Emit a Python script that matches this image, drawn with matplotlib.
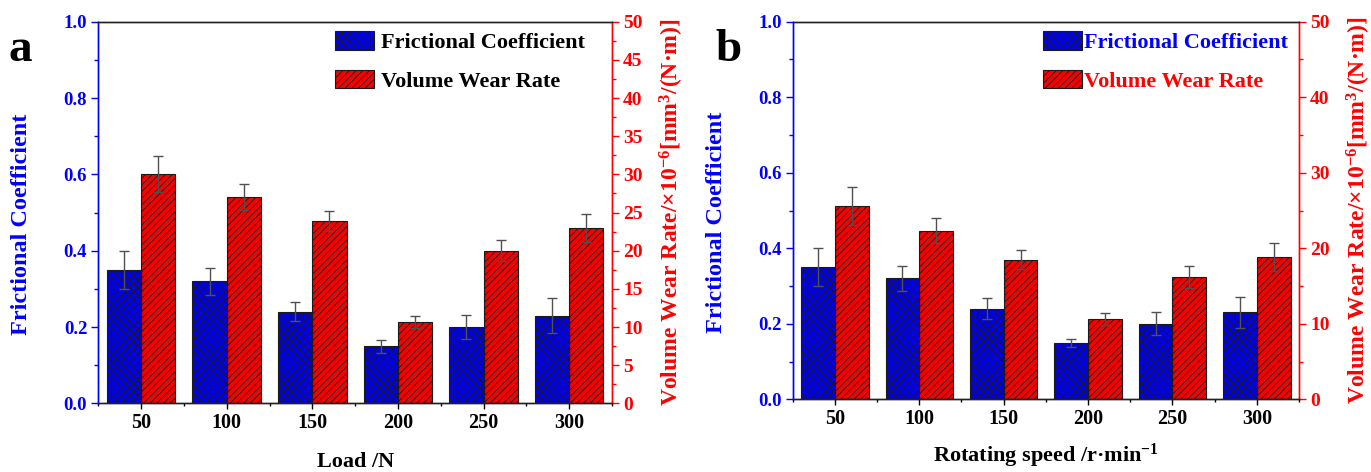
import matplotlib
matplotlib.use("Agg")
import matplotlib.pyplot as plt
import numpy as np
from matplotlib.ticker import MultipleLocator


plt.rcParams["font.family"] = ["Liberation Serif", "DejaVu Serif"]
plt.rcParams["font.weight"] = "bold"
plt.rcParams["mathtext.fontset"] = "custom"
plt.rcParams["mathtext.rm"] = "Liberation Serif:bold"
plt.rcParams["mathtext.it"] = "Liberation Serif:bold"
plt.rcParams["mathtext.bf"] = "Liberation Serif:bold"
plt.rcParams["hatch.linewidth"] = 0.6

BLUE = "#0000ff"
RED = "#ff0000"
BAR_BLUE = "#0000f0"
BAR_RED = "#f80000"

categories = ["50", "100", "150", "200", "250", "300"]

# panel a: load
friction_a = [0.35, 0.32, 0.24, 0.15, 0.20, 0.23]
friction_a_err = [0.05, 0.035, 0.025, 0.017, 0.031, 0.045]
wear_a = [30.0, 27.0, 23.9, 10.7, 20.0, 23.0]
wear_a_err = [2.35, 1.7, 1.35, 0.8, 1.4, 1.8]

# panel b: rotating speed
friction_b = [0.35, 0.32, 0.24, 0.15, 0.20, 0.23]
friction_b_err = [0.05, 0.032, 0.028, 0.011, 0.031, 0.041]
wear_b = [25.6, 22.3, 18.5, 10.6, 16.2, 18.9]
wear_b_err = [2.5, 1.65, 1.3, 0.8, 1.5, 1.85]


def draw_panel(fig, rect, letter, letter_x, fric, fric_err, wear, wear_err,
               xlabel, xlabelpad, wear_major, legend_colored, legend_anchor):
    ax = fig.add_axes(rect)
    ax2 = ax.twinx()
    x = np.arange(len(categories))
    w = 0.4

    hb = ax.bar(x - w / 2, fric, w, color=BAR_BLUE, edgecolor="#1a1a1a",
                hatch="xxxx", linewidth=0.8, zorder=2)
    ax.errorbar(x - w / 2, fric, yerr=fric_err, fmt="none", ecolor="#505050",
                elinewidth=1.0, capsize=3.5, capthick=1.0, zorder=3)
    hr = ax2.bar(x + w / 2, wear, w, color=BAR_RED, edgecolor="#1a1a1a",
                 hatch="/////", linewidth=0.8, zorder=2)
    ax2.errorbar(x + w / 2, wear, yerr=wear_err, fmt="none", ecolor="#505050",
                 elinewidth=1.0, capsize=3.5, capthick=1.0, zorder=3)

    ax.set_xlim(-0.5, 5.5)
    ax.set_ylim(0, 1.0)
    ax2.set_ylim(0, 50)
    ax.set_xticks(x)
    ax.set_xticklabels(categories)
    ax.xaxis.set_minor_locator(MultipleLocator(0.5))
    ax.yaxis.set_major_locator(MultipleLocator(0.2))
    ax.yaxis.set_minor_locator(MultipleLocator(0.1))
    ax2.yaxis.set_major_locator(MultipleLocator(wear_major))
    ax2.yaxis.set_minor_locator(MultipleLocator(wear_major / 2))
    ax.yaxis.set_major_formatter(plt.FormatStrFormatter("%.1f"))

    ax.tick_params(axis="x", which="major", direction="out", length=4,
                   width=1.0, labelsize=14.5, pad=3)
    ax.tick_params(axis="x", which="minor", direction="out", length=2.5, width=1.0)
    ax.tick_params(axis="y", which="major", direction="out", length=5,
                   width=1.0, colors=BLUE, labelsize=13.5, pad=3)
    ax.tick_params(axis="y", which="minor", direction="out", length=3,
                   width=1.0, colors=BLUE)
    ax2.tick_params(axis="y", which="major", direction="out", length=5,
                    width=1.0, colors=RED, labelsize=14, pad=3)
    ax2.tick_params(axis="y", which="minor", direction="out", length=3,
                    width=1.0, colors=RED)

    for a in (ax, ax2):
        a.spines["left"].set_color(BLUE)
        a.spines["right"].set_color(RED)
        a.spines["top"].set_color("#222222")
        a.spines["bottom"].set_color("#222222")
        for s in a.spines.values():
            s.set_linewidth(1.0)
    ax.set_zorder(ax2.get_zorder() + 1)
    ax.patch.set_visible(False)

    ax.set_ylabel("Frictional Coefficient", color=BLUE, fontsize=17.5,
                  fontweight="bold")
    ax.yaxis.set_label_coords(-0.13, 0.47)
    ax2.set_ylabel("Volume Wear Rate/×10$^{-6}$[mm$^{3}$/(N·m)]", color=RED,
                   fontsize=17, fontweight="bold", labelpad=11)
    ax.set_xlabel(xlabel, fontsize=16, fontweight="bold", labelpad=xlabelpad)

    leg = ax.legend([hb, hr], ["Frictional Coefficient", "Volume Wear Rate"],
                    loc="upper left", bbox_to_anchor=legend_anchor,
                    frameon=False, fontsize=16, handlelength=1.75,
                    handleheight=0.9, labelspacing=0.75,
                    handletextpad=0.3 if not legend_colored else 0.1,
                    borderpad=0, borderaxespad=0)
    if legend_colored:
        for t, c in zip(leg.get_texts(), [BLUE, RED]):
            t.set_color(c)

    fig.text(letter_x, 0.895, letter, fontsize=34, fontweight="bold",
             ha="left", va="center")


fig = plt.figure(figsize=(13.71, 4.72), dpi=100)
fig.patch.set_facecolor("white")

draw_panel(fig, [0.0717, 0.1455, 0.3747, 0.8085], "a", 0.0065,
           friction_a, friction_a_err, wear_a, wear_a_err, "Load /N", 14,
           5, False, (0.461, 0.975))
draw_panel(fig, [0.5782, 0.154, 0.3693, 0.8000], "b", 0.5222,
           friction_b, friction_b_err, wear_b, wear_b_err,
           "Rotating speed /r·min$^{-1}$", 9,
           10, True, (0.494, 0.975))

fig.savefig("out.png", dpi=100)
